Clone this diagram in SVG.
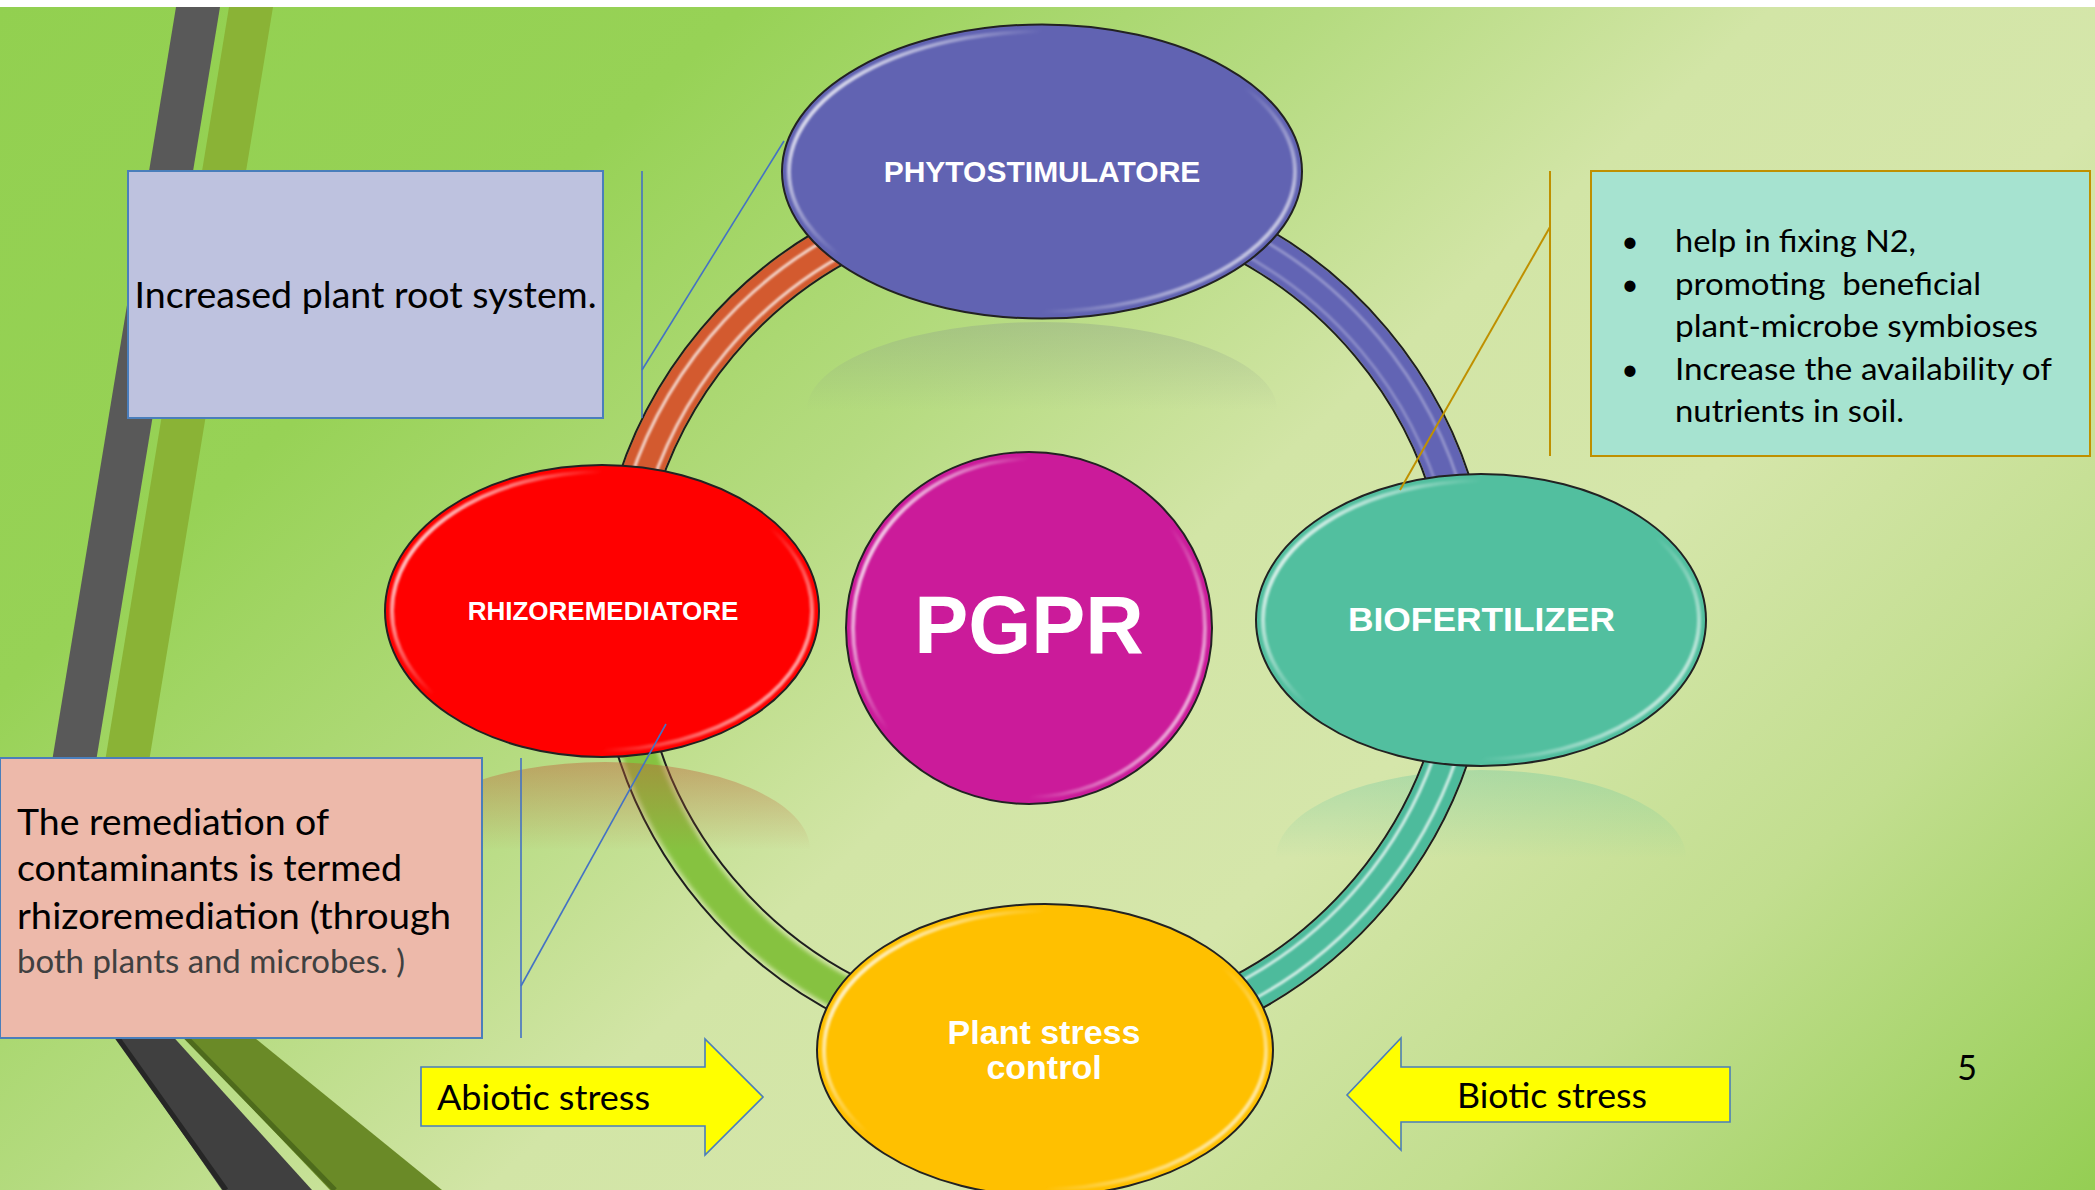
<svg xmlns="http://www.w3.org/2000/svg" width="2095" height="1190" viewBox="0 0 2095 1190">
<defs>
  <linearGradient id="bg" gradientUnits="userSpaceOnUse" x1="0" y1="0" x2="1567" y2="1706">
    <stop offset="0" stop-color="#92D050"/>
    <stop offset="0.22" stop-color="#97D256"/>
    <stop offset="0.39" stop-color="#B5DB80"/>
    <stop offset="0.52" stop-color="#D2E5A6"/>
    <stop offset="0.65" stop-color="#D5E6AA"/>
    <stop offset="0.8" stop-color="#C2DE8F"/>
    <stop offset="1" stop-color="#92CD50"/>
  </linearGradient>
  <linearGradient id="rim" x1="0" y1="0.25" x2="1" y2="0.75">
    <stop offset="0" stop-color="#fff" stop-opacity="0.9"/>
    <stop offset="0.3" stop-color="#fff" stop-opacity="0"/>
    <stop offset="0.7" stop-color="#fff" stop-opacity="0"/>
    <stop offset="1" stop-color="#fff" stop-opacity="0.75"/>
  </linearGradient>
  <linearGradient id="refGrey" x1="0" y1="0" x2="0" y2="0.5">
    <stop offset="0" stop-color="#8A9A8A" stop-opacity="0.35"/>
    <stop offset="1" stop-color="#8A9A8A" stop-opacity="0"/>
  </linearGradient>
  <linearGradient id="refOrange" x1="0" y1="0" x2="0" y2="0.5">
    <stop offset="0" stop-color="#C0603A" stop-opacity="0.45"/>
    <stop offset="1" stop-color="#C0603A" stop-opacity="0"/>
  </linearGradient>
  <linearGradient id="refTeal" x1="0" y1="0" x2="0" y2="0.5">
    <stop offset="0" stop-color="#52BF9F" stop-opacity="0.3"/>
    <stop offset="1" stop-color="#52BF9F" stop-opacity="0"/>
  </linearGradient>
  <filter id="blur1" x="-10%" y="-10%" width="120%" height="120%"><feGaussianBlur stdDeviation="1.2"/></filter>
  <filter id="blur2" x="-10%" y="-10%" width="120%" height="120%"><feGaussianBlur stdDeviation="2"/></filter>
</defs>
<style>
  .lbl{font-family:'Liberation Sans',Arial,sans-serif;font-weight:bold;fill:#fff;text-anchor:middle}
  .body{font-family:Lato,'Open Sans',sans-serif;fill:#000}
  .node{stroke:#222;stroke-width:2}
  .rim{fill:none;stroke:url(#rim);stroke-width:4;filter:url(#blur1)}
  .edge{fill:none;stroke:#1e1e1e;stroke-width:2}
  .tube{fill:none;stroke-width:40}
  .hl{fill:none;stroke:#fff;stroke-width:3;opacity:0.75;filter:url(#blur1)}
  .callb{stroke:#4472C4;stroke-width:1.6;fill:none}
  .callg{stroke:#BF9000;stroke-width:2;fill:none}
  .box{stroke-width:2}
  .arrow{fill:#FFFF00;stroke:#4A7EBB;stroke-width:1.6}
</style>

<!-- background -->
<rect x="0" y="0" width="2095" height="1190" fill="url(#bg)"/>
<rect x="0" y="0" width="2095" height="7" fill="#fff"/>

<!-- decorative stripes -->
<g id="stripes">
  <polygon points="176,7 220,7 89.7,800 45.7,800" fill="#595959"/>
  <polygon points="229,7 273,7 142.7,800 98.7,800" fill="#8AB336"/>
  <polygon points="90,1000 140,1000 312,1190 222,1190" fill="#404040"/>
  <line x1="112" y1="1030" x2="226" y2="1190" stroke="#262626" stroke-width="5"/>
  <polygon points="149,1000 208,1000 442,1190 330,1190" fill="#6A8A27"/>
  <line x1="181" y1="1032" x2="335" y2="1190" stroke="#4E6B1C" stroke-width="5"/>
</g>

<!-- reflections behind ring -->
<g id="reflections">
  <ellipse cx="1042" cy="410" rx="235" ry="88" fill="url(#refGrey)"/>
  <ellipse cx="1481" cy="858" rx="205" ry="88" fill="url(#refTeal)"/>
</g>

<!-- ring connectors -->
<g id="connectors">
  <!-- orange -->
  <path class="tube" stroke="#D35A2F" d="M631.55,506.48 A427,427 0 0 1 863.54,230.01"/>
  <path class="hl" d="M622.85,504.15 A436,436 0 0 1 859.74,221.85"/>
  <path class="hl" d="M644.10,509.85 A414,414 0 0 1 869.04,241.79"/>
  <path class="edge" d="M611.26,501.05 A448,448 0 0 1 854.67,210.97"/>
  <path class="edge" d="M651.83,511.92 A406,406 0 0 1 872.42,249.04"/>
  <!-- blue -->
  <path class="tube" stroke="#6264B4" d="M1224.46,230.01 A427,427 0 0 1 1456.45,506.48"/>
  <path class="hl" style="opacity:0.3" d="M1228.26,221.85 A436,436 0 0 1 1465.15,504.15"/>
  <path class="hl" style="opacity:0.25" d="M1218.96,241.79 A414,414 0 0 1 1443.90,509.85"/>
  <path class="edge" d="M1233.33,210.97 A448,448 0 0 1 1476.74,501.05"/>
  <path class="edge" d="M1215.58,249.04 A406,406 0 0 1 1436.17,511.92"/>
  <!-- teal -->
  <path class="tube" stroke="#4DBB9C" d="M1456.45,727.52 A427,427 0 0 1 1224.46,1003.99"/>
  <path class="hl" d="M1465.15,729.85 A436,436 0 0 1 1228.26,1012.15"/>
  <path class="hl" d="M1443.90,724.15 A414,414 0 0 1 1218.96,992.21"/>
  <path class="edge" d="M1476.74,732.95 A448,448 0 0 1 1233.33,1023.03"/>
  <path class="edge" d="M1436.17,722.08 A406,406 0 0 1 1215.58,984.96"/>
  <!-- green -->
  <path fill="none" stroke="#86C240" stroke-width="34" filter="url(#blur2)" d="M863.54,1003.99 A427,427 0 0 1 631.55,727.52"/>
  <path class="edge" d="M854.67,1023.03 A448,448 0 0 1 611.26,732.95"/>
  <path class="edge" d="M872.42,984.96 A406,406 0 0 1 651.83,722.08"/>
</g>

<!-- reflection over green arc -->
<ellipse id="reflection-rhizo" cx="605" cy="850" rx="205" ry="88" fill="url(#refOrange)"/>

<!-- nodes -->
<g id="node-phyto">
  <ellipse class="node" cx="1042" cy="171.5" rx="260" ry="147" fill="#6163B2"/>
  <ellipse class="rim" cx="1042" cy="171.5" rx="253" ry="140"/>
  <text class="lbl" x="1042" y="182" font-size="30">PHYTOSTIMULATORE</text>
</g>
<g id="node-rhizo">
  <ellipse class="node" cx="602" cy="611" rx="217" ry="146" fill="#FF0000"/>
  <ellipse class="rim" cx="602" cy="611" rx="210" ry="139"/>
  <text class="lbl" x="603" y="620" font-size="26">RHIZOREMEDIATORE</text>
</g>
<g id="node-pgpr">
  <ellipse class="node" cx="1029" cy="628" rx="183" ry="176" fill="#CB1B9A"/>
  <ellipse class="rim" cx="1029" cy="628" rx="176" ry="169"/>
  <text class="lbl" x="1029" y="653" font-size="81">PGPR</text>
</g>
<g id="node-biofert">
  <ellipse class="node" cx="1481" cy="620" rx="225" ry="146" fill="#52BF9F"/>
  <ellipse class="rim" cx="1481" cy="620" rx="218" ry="139"/>
  <text class="lbl" x="1481.5" y="631" font-size="33" textLength="267" lengthAdjust="spacingAndGlyphs">BIOFERTILIZER</text>
</g>
<g id="node-stress">
  <ellipse class="node" cx="1045" cy="1050" rx="228" ry="146" fill="#FFC000"/>
  <ellipse class="rim" cx="1045" cy="1050" rx="221" ry="139"/>
  <text class="lbl" x="1044" y="1044" font-size="34">Plant stress</text>
  <text class="lbl" x="1044" y="1079" font-size="34">control</text>
</g>

<!-- callout boxes -->
<g id="box-root">
  <rect class="box" x="128" y="171" width="475" height="247" fill="#BEC2DF" stroke="#4A7EBB"/>
  <text class="body" x="365.5" y="308" font-size="36" text-anchor="middle" textLength="462" lengthAdjust="spacingAndGlyphs">Increased plant root system.</text>
</g>
<g id="box-biofert">
  <rect class="box" x="1591" y="171" width="499" height="285" fill="#A6E3D0" stroke="#BF9000"/>
  <g class="body" font-size="30">
    <text x="1630" y="252" text-anchor="middle">•</text>
    <text x="1675" y="252" textLength="241" lengthAdjust="spacingAndGlyphs">help in fixing N2,</text>
    <text x="1630" y="295" text-anchor="middle">•</text>
    <text x="1675" y="295" textLength="306" lengthAdjust="spacingAndGlyphs" xml:space="preserve">promoting  beneficial</text>
    <text x="1675" y="337" textLength="363" lengthAdjust="spacingAndGlyphs">plant-microbe symbioses</text>
    <text x="1630" y="380" text-anchor="middle">•</text>
    <text x="1675" y="380" textLength="377" lengthAdjust="spacingAndGlyphs">Increase the availability of</text>
    <text x="1675" y="422" textLength="229" lengthAdjust="spacingAndGlyphs">nutrients in soil.</text>
  </g>
</g>
<g id="box-rhizo">
  <rect class="box" x="0" y="758" width="482" height="280" fill="#EDB9AA" stroke="#4A7EBB"/>
  <g class="body">
    <text x="17" y="835" font-size="37" textLength="312" lengthAdjust="spacingAndGlyphs">The remediation of</text>
    <text x="17" y="881" font-size="37" textLength="385" lengthAdjust="spacingAndGlyphs">contaminants is termed</text>
    <text x="17" y="929" font-size="37" textLength="434" lengthAdjust="spacingAndGlyphs">rhizoremediation (through</text>
    <text x="17" y="973" font-size="33" fill="#404040" textLength="388" lengthAdjust="spacingAndGlyphs">both plants and microbes. )</text>
  </g>
</g>

<!-- callout leader lines -->
<g id="callout-lines">
  <line class="callb" x1="642" y1="171" x2="642" y2="418"/>
  <line class="callb" x1="642" y1="370" x2="784" y2="141"/>
  <line class="callb" x1="521" y1="758" x2="521" y2="1038"/>
  <line class="callb" x1="521" y1="986" x2="666" y2="724"/>
  <line class="callg" x1="1550" y1="171" x2="1550" y2="456"/>
  <line class="callg" x1="1550" y1="227" x2="1400" y2="490"/>
</g>

<!-- stress arrows -->
<g id="arrow-abiotic">
  <polygon class="arrow" points="421,1067 705,1067 705,1039 763,1097 705,1155 705,1126 421,1126"/>
  <text class="body" x="437" y="1110" font-size="34" textLength="213" lengthAdjust="spacingAndGlyphs">Abiotic stress</text>
</g>
<g id="arrow-biotic">
  <polygon class="arrow" points="1730,1067 1401,1067 1401,1038 1347,1095 1401,1150 1401,1122 1730,1122"/>
  <text class="body" x="1457" y="1108" font-size="34" textLength="190" lengthAdjust="spacingAndGlyphs">Biotic stress</text>
</g>

<text id="slide-number" class="body" x="1967" y="1080" font-size="34" text-anchor="middle">5</text>
</svg>
